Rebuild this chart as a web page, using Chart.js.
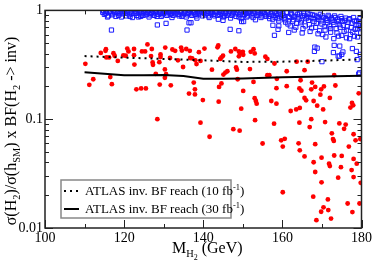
<!DOCTYPE html>
<html lang="en">
<head>
    <meta charset="UTF-8">
    <title>H2 invisible reach</title>
    <script src="https://cdn.jsdelivr.net/npm/chart.js"></script>
    <style>
        * {
            margin: 0;
            padding: 0;
            box-sizing: border-box;
        }

        body {
            background-color: #fff;
        }

        .chart-container {
            position: relative;
            width: 374px;
            height: 265px;
        }
    </style>
</head>
<body>
    <div class="chart-container">
        <canvas id="reachChart"></canvas>
    </div>

    <script>
        // tick labels
        const xTicks = [100, 120, 140, 160, 180];
        const yTicks = [0.01, 0.1, 1];
        const yTickLabels = ['0.01', '0.1', '1'];

        // ATLAS reach curves
        const reachX = [110, 120, 130, 140, 150, 160, 170, 180];
        const reach10 = [0.38, 0.368, 0.358, 0.348, 0.336, 0.338, 0.345, 0.355];
        const reach30X = [110, 115, 120, 125, 130, 135, 140, 145, 150, 160, 170, 180];
        const reach30 = [0.27, 0.262, 0.253, 0.253, 0.255, 0.25, 0.235, 0.235, 0.237, 0.243, 0.247, 0.251];

        // red points (filled circles)
        const redX = [110.2, 114.1, 115.3, 115.4, 115.5, 116.2, 117.3, 117.6, 118.4, 119.8, 116.5, 112.2, 111.2, 116.9,
            125.9, 120.8, 121.1, 122.5, 120.4, 122.5, 124.5, 125.3, 127.0, 126.8, 127.2, 127.3, 122.6, 128.9, 129.2, 129.2,
            130.4, 132.2, 132.9, 131.6, 134.4, 135.7, 134.6, 136.6, 133.6, 136.7, 137.2, 134.9, 138.0, 138.3, 139.3, 138.9,
            140.3, 128.0, 130.3, 130.6, 130.3, 129.0, 131.8, 123.1, 124.3, 125.5, 137.6, 136.4, 137.9, 137.9, 139.9, 128.4,
            143.8, 143.6, 147.0, 148.1, 149.0, 149.3, 150.0, 149.0, 150.1, 152.0, 152.7, 153.0, 144.6, 145.0, 144.3, 155.7,
            156.2, 158.0, 142.2, 146.1, 145.6, 145.1, 148.3, 148.5, 151.8, 156.2, 156.7, 148.7, 158.6, 152.7, 144.6, 144.0,
            158.5, 150.1, 143.9, 153.0, 153.3, 153.5, 157.2, 158.5, 149.6, 153.1,
            161.1, 163.6, 166.4, 165.6, 173.1, 161.1, 164.3, 164.8, 167.5, 168.3, 167.3, 170.5, 169.8, 173.4, 169.6, 172.0,
            165.6, 166.0, 167.9, 168.8, 170.3, 177.6, 177.9, 177.2, 164.4, 163.5, 162.1, 167.3, 179.3, 164.6,
            157.9, 141.6, 147.6, 149.2, 155.0, 159.7, 160.1, 160.1, 139.3,
            164.3, 170.8, 174.4, 176.0, 175.6, 166.9, 160.6, 164.1, 164.4, 165.6, 168.3, 172.5, 172.8, 173.0, 178.0, 178.5,
            179.7, 176.8, 173.1, 175.0, 167.9, 169.9, 171.8, 172.0, 174.8, 178.0, 178.8, 177.5, 178.0, 174.1, 168.3, 169.9,
            179.8, 167.8, 171.5, 170.4, 171.6, 169.8, 176.5, 179.5, 177.7, 172.3, 168.6];
        const redY = [0.323, 0.407, 0.425, 0.44, 0.37, 0.37, 0.404, 0.383, 0.343, 0.386, 0.244, 0.233, 0.207, 0.21,
            0.487, 0.446, 0.42, 0.442, 0.383, 0.388, 0.42, 0.42, 0.442, 0.38, 0.332, 0.316, 0.318, 0.334, 0.394, 0.373,
            0.455, 0.437, 0.425, 0.365, 0.455, 0.442, 0.428, 0.425, 0.348, 0.365, 0.363, 0.302, 0.348, 0.321, 0.343, 0.413,
            0.446, 0.261, 0.287, 0.259, 0.24, 0.208, 0.205, 0.188, 0.192, 0.192, 0.217, 0.172, 0.188, 0.169, 0.15, 0.1,
            0.477, 0.458, 0.42, 0.442, 0.42, 0.402, 0.416, 0.378, 0.391, 0.416, 0.44, 0.402, 0.37, 0.383, 0.358, 0.375,
            0.358, 0.325, 0.285, 0.276, 0.268, 0.257, 0.299, 0.285, 0.289, 0.254, 0.254, 0.233, 0.235, 0.22, 0.213, 0.198,
            0.193, 0.182, 0.145, 0.156, 0.147, 0.139, 0.147, 0.139, 0.125, 0.098,
            0.276, 0.338, 0.338, 0.282, 0.254, 0.201, 0.192, 0.183, 0.217, 0.198, 0.188, 0.2, 0.188, 0.204, 0.168, 0.157,
            0.157, 0.149, 0.147, 0.133, 0.123, 0.141, 0.134, 0.128, 0.127, 0.123, 0.119, 0.1, 0.173, 0.228,
            0.091, 0.069, 0.081, 0.0784, 0.0598, 0.064, 0.056, 0.0213, 0.0929,
            0.0929, 0.094, 0.0914, 0.0892, 0.0815, 0.0847, 0.066, 0.06, 0.0518, 0.0455, 0.0589, 0.0741, 0.0657, 0.0632, 0.0727, 0.064,
            0.0657, 0.056, 0.0464, 0.046, 0.0402, 0.0443, 0.039, 0.0371, 0.0362, 0.0431, 0.039, 0.0341, 0.0294, 0.029, 0.0327, 0.0263,
            0.026, 0.0194, 0.0183, 0.0155, 0.0146, 0.0141, 0.0168, 0.0168, 0.014, 0.0122, 0.0118];

        // blue points (open squares), dense band near 1 plus the spread at high mass
        const blueX = [114.6, 115.0, 115.5, 116.0, 116.6, 117.1, 117.6,
            118.2, 118.6, 119.0, 119.3, 119.7, 120.1, 120.5, 120.9, 121.3, 121.7, 122.1, 122.5, 122.9, 123.3, 123.8, 124.2,
            124.6, 125.0, 125.5, 125.9, 126.3, 126.8, 127.2, 127.6, 128.1, 128.5, 129.0, 129.4, 129.9, 130.3, 130.8, 131.2,
            131.7, 132.1, 132.6, 133.0, 133.5, 133.9, 134.4, 134.8, 135.3, 135.7, 136.2, 136.6, 137.1, 137.5, 138.0, 138.4,
            138.9, 139.3, 139.8,
            140.2, 140.6, 141.1, 141.5, 142.0, 142.4, 142.9, 143.3, 143.8, 144.2, 144.7, 145.1, 145.6, 146.0, 146.5, 146.9,
            147.4, 147.8, 148.3, 148.7, 149.2, 149.6, 150.1, 150.5, 151.0, 151.4, 151.9, 152.3, 152.8, 153.2, 153.7, 154.1,
            154.6, 155.0, 155.5, 155.9, 156.4, 156.8, 157.3, 157.7, 158.2, 158.6, 159.1, 159.5,
            160.0, 160.4, 160.8, 161.2, 161.6, 162.0, 162.4, 162.8, 163.2, 163.6, 164.0, 164.4, 164.8, 165.2, 165.6, 166.0,
            166.4, 166.8, 167.2, 167.6, 168.0, 168.4, 168.8, 169.2, 169.6, 170.0, 170.4, 170.8, 171.2, 171.6, 172.0, 172.4,
            172.8, 173.2, 173.6, 174.0, 174.4, 174.8, 175.2, 175.6, 176.0, 176.4, 176.8, 177.2, 177.6, 178.0, 178.4, 178.8,
            179.2, 179.6, 179.8, 165.0, 170.2, 172.2, 174.2, 176.2, 178.2, 163.0, 167.0, 169.0, 171.0, 173.0, 175.0, 177.0,
            179.0,
            116.8, 128.4, 130.6, 135.9, 136.4, 136.9, 146.8, 149.0, 149.7, 150.2, 145.0, 158.0, 158.9, 157.6, 159.1, 161.6,
            168.8, 168.1, 172.9, 174.1, 175.3, 174.4, 177.7, 178.7, 178.9, 173.1, 174.5, 179.5, 179.3, 170.0, 175.0, 168.2,
            179.7,
            114.8, 115.3, 115.8, 116.3, 116.9, 117.4, 117.9, 118.4, 118.9, 119.5, 120.3, 120.7, 121.5, 121.9, 122.7, 123.1,
            123.6, 124.0, 124.4, 124.8, 125.3, 125.7, 126.1, 126.6, 127.0, 127.4, 127.9, 128.3, 128.8, 129.2, 129.7, 130.1,
            130.6, 131.0, 131.5, 131.9, 132.4, 132.8, 133.3, 133.7, 134.2, 134.6, 135.1, 135.5, 136.0, 136.4, 136.9, 137.3,
            137.8, 138.2, 138.7, 139.1, 139.6,
            140.4, 140.9, 141.3, 141.8, 142.2, 142.7, 143.1, 143.6, 144.0, 144.5, 144.9, 145.4, 145.8, 146.3, 146.7, 147.2,
            147.6, 148.1, 148.5, 149.0, 149.4, 149.9, 150.3, 150.8, 151.2, 151.7, 152.1, 152.6, 153.0, 153.5, 153.9, 154.4,
            154.8, 155.3, 155.7, 156.2, 156.6, 157.1, 157.5, 158.0, 158.4, 158.9, 159.3, 159.8,
            160.2, 160.6, 161.0, 161.4, 161.8, 162.2, 162.6, 163.0, 163.4, 163.8, 164.2, 164.6, 165.0, 165.4, 165.8, 166.2,
            166.6, 167.0, 167.4, 167.8, 168.2, 168.6, 169.0, 169.4, 169.8, 170.2, 170.6, 171.0, 171.4, 171.8, 172.2, 172.6,
            173.0, 173.4, 173.8, 174.2, 174.6, 175.0, 175.4, 175.8, 176.2, 176.6, 177.0, 177.4, 177.8, 178.2, 178.6, 179.0,
            179.4, 179.8];
        const blueY = [0.96, 0.92, 0.98, 0.89, 0.95, 0.91, 0.97,
            0.95, 0.90, 0.97, 0.87, 0.93, 0.98, 0.89, 0.95, 0.91, 0.97, 0.86, 0.94, 0.99, 0.90, 0.96, 0.88,
            0.93, 0.98, 0.91, 0.96, 0.87, 0.94, 0.99, 0.90, 0.95, 0.92, 0.97, 0.88, 0.94, 0.98, 0.90, 0.96,
            0.92, 0.86, 0.97, 0.93, 0.99, 0.89, 0.95, 0.91, 0.97, 0.87, 0.94, 0.99, 0.90, 0.96, 0.92, 0.85,
            0.97, 0.93, 0.89,
            0.96, 0.91, 0.98, 0.86, 0.93, 0.97, 0.89, 0.95, 0.83, 0.92, 0.98, 0.87, 0.94, 0.90, 0.97, 0.85,
            0.93, 0.99, 0.88, 0.95, 0.91, 0.84, 0.97, 0.92, 0.87, 0.95, 0.99, 0.89, 0.93, 0.82, 0.96, 0.91,
            0.86, 0.98, 0.93, 0.88, 0.95, 0.84, 0.97, 0.90, 0.86, 0.94, 0.80, 0.92,
            0.93, 0.85, 0.78, 0.96, 0.88, 0.72, 0.91, 0.82, 0.95, 0.76, 0.87, 0.93, 0.80, 0.68, 0.90, 0.84,
            0.94, 0.74, 0.86, 0.91, 0.79, 0.70, 0.88, 0.83, 0.92, 0.75, 0.86, 0.66, 0.81, 0.90, 0.72, 0.85,
            0.78, 0.89, 0.68, 0.83, 0.74, 0.88, 0.79, 0.64, 0.85, 0.71, 0.82, 0.60, 0.76, 0.86, 0.67, 0.80,
            0.73, 0.84, 0.62, 0.62, 0.60, 0.63, 0.58, 0.56, 0.58, 0.66, 0.64, 0.61, 0.57, 0.55, 0.59, 0.55,
            0.57,
            0.66, 0.735, 0.76, 0.66, 0.77, 0.77, 0.67, 0.65, 0.79, 0.79, 0.81, 0.59, 0.67, 0.73, 0.72, 0.627,
            0.45, 0.42, 0.41, 0.38, 0.415, 0.38, 0.446, 0.42, 0.353, 0.477, 0.47, 0.267, 0.26, 0.338, 0.394, 0.46,
            0.394,
            0.99, 0.94, 0.87, 0.97, 0.93, 0.99, 0.88, 0.98, 0.93, 0.99, 0.94, 0.99, 0.88, 0.93, 0.97, 0.94,
            0.87, 0.99, 0.95, 0.90, 0.97, 0.93, 0.99, 0.91, 0.96, 0.93, 0.98, 0.88, 0.99, 0.94, 0.91, 0.96,
            0.99, 0.93, 0.98, 0.95, 0.90, 0.99, 0.95, 0.92, 0.98, 0.88, 0.94, 0.99, 0.91, 0.96, 0.93, 0.99,
            0.95, 0.89, 0.93, 0.99, 0.96,
            0.99, 0.94, 0.89, 0.96, 0.99, 0.92, 0.98, 0.90, 0.96, 0.99, 0.93, 0.89, 0.97, 0.93, 0.99, 0.90,
            0.96, 0.93, 0.99, 0.87, 0.95, 0.91, 0.99, 0.94, 0.89, 0.97, 0.93, 0.86, 0.99, 0.90, 0.95, 0.99,
            0.89, 0.96, 0.91, 0.99, 0.88, 0.93, 0.83, 0.96, 0.90, 0.84, 0.97, 0.87,
            0.90, 0.82, 0.95, 0.75, 0.86, 0.93, 0.79, 0.88, 0.70, 0.92, 0.83, 0.77, 0.89, 0.94, 0.72, 0.87,
            0.81, 0.92, 0.69, 0.84, 0.90, 0.76, 0.86, 0.65, 0.80, 0.89, 0.71, 0.84, 0.77, 0.87, 0.68, 0.82,
            0.74, 0.86, 0.62, 0.79, 0.70, 0.84, 0.73, 0.81, 0.66, 0.78, 0.84, 0.70, 0.63, 0.80, 0.74, 0.68,
            0.79, 0.70];

        const toPoints = (xs, ys) => xs.map((v, i) => ({ x: v, y: ys[i] }));

        const serif = "'Liberation Serif', 'DejaVu Serif', serif";

        // draws a run of [text, level] pieces, level 1 = subscript, 2 = sub-sub, -1 = superscript
        function drawRuns(ctx, runs, x, y, size, align) {
            const fontFor = lv => (lv === 0 ? size : lv === 2 ? size * 0.5 : size * 0.65) + 'px ' + serif;
            const shiftFor = lv => (lv === 0 ? 0 : lv === 1 ? size * 0.28 : lv === 2 ? size * 0.42 : -size * 0.38);
            let total = 0;
            runs.forEach(r => { ctx.font = fontFor(r[1]); total += ctx.measureText(r[0]).width; });
            let cx = align === 'center' ? x - total / 2 : x;
            ctx.textAlign = 'left';
            ctx.textBaseline = 'alphabetic';
            runs.forEach(r => {
                ctx.font = fontFor(r[1]);
                ctx.fillText(r[0], cx, y + shiftFor(r[1]));
                cx += ctx.measureText(r[0]).width;
            });
        }

        const framePlugin = {
            id: 'frame',
            afterDraw(chart) {
                const { ctx, chartArea: a, scales: { x, y } } = chart;
                ctx.save();
                ctx.strokeStyle = '#222';
                ctx.lineWidth = 1;
                ctx.beginPath();
                for (let v = 100; v <= 180; v += 10) {
                    const px = Math.round(x.getPixelForValue(v)) + 0.5;
                    const len = v % 20 === 0 ? 8 : 4;
                    ctx.moveTo(px, a.bottom); ctx.lineTo(px, a.bottom - len);
                    ctx.moveTo(px, a.top); ctx.lineTo(px, a.top + len);
                }
                [0.01, 0.1].forEach(d => {
                    for (let m = 1; m <= 9; m++) {
                        const py = Math.round(y.getPixelForValue(m * d)) + 0.5;
                        const len = m === 1 ? 8 : 4;
                        ctx.moveTo(a.left, py); ctx.lineTo(a.left + len, py);
                        ctx.moveTo(a.right, py); ctx.lineTo(a.right - len, py);
                    }
                });
                ctx.stroke();
                ctx.lineWidth = 1.5;
                ctx.strokeRect(a.left, a.top, a.right - a.left, a.bottom - a.top);

                // axis titles
                ctx.fillStyle = '#000';
                drawRuns(ctx, [['M', 0], ['H', 1], ['2', 2], [' (GeV)', 0]], 172, 253, 16, 'left');
                ctx.save();
                ctx.translate(16, 131);
                ctx.rotate(-Math.PI / 2);
                drawRuns(ctx, [['σ(H', 0], ['2', 1], [')/σ(h', 0], ['SM', 1], [') x BF(H', 0], ['2', 1], [' -> inv)', 0]], 0, 0, 16, 'center');
                ctx.restore();

                // legend box
                ctx.fillStyle = '#fff';
                ctx.fillRect(61, 180, 170, 38);
                ctx.strokeStyle = '#888';
                ctx.lineWidth = 1.5;
                ctx.strokeRect(61, 180, 170, 38);
                ctx.strokeStyle = '#000';
                ctx.lineWidth = 2;
                ctx.setLineDash([2, 4]);
                ctx.beginPath(); ctx.moveTo(64, 191); ctx.lineTo(80, 191); ctx.stroke();
                ctx.setLineDash([]);
                ctx.beginPath(); ctx.moveTo(64, 209); ctx.lineTo(79, 209); ctx.stroke();
                ctx.fillStyle = '#000';
                drawRuns(ctx, [['ATLAS inv. BF reach (10 fb', 0], ['-1', -1], [')', 0]], 85, 195, 13, 'left');
                drawRuns(ctx, [['ATLAS inv. BF reach (30 fb', 0], ['-1', -1], [')', 0]], 85, 213, 13, 'left');
                ctx.restore();
            }
        };

        const ctx = document.getElementById('reachChart').getContext('2d');
        new Chart(ctx, {
            type: 'scatter',
            data: {
                datasets: [{
                    label: 'ATLAS inv. BF reach (10 fb-1)',
                    data: toPoints(reachX, reach10),
                    showLine: true,
                    borderColor: '#000',
                    borderWidth: 2,
                    borderDash: [2, 4],
                    pointRadius: 0
                }, {
                    label: 'ATLAS inv. BF reach (30 fb-1)',
                    data: toPoints(reach30X, reach30),
                    showLine: true,
                    borderColor: '#000',
                    borderWidth: 2,
                    pointRadius: 0
                }, {
                    label: 'red',
                    data: toPoints(redX, redY),
                    pointRadius: 2.4,
                    pointBackgroundColor: '#ff0000',
                    pointBorderWidth: 0
                }, {
                    label: 'blue',
                    data: toPoints(blueX, blueY),
                    pointStyle: 'rect',
                    pointRadius: 3,
                    pointBackgroundColor: 'rgba(0,0,0,0)',
                    pointBorderColor: '#1a1aff',
                    pointBorderWidth: 1
                }]
            },
            options: {
                responsive: true,
                maintainAspectRatio: false,
                animation: false,
                layout: {
                    padding: { top: 4, right: 11, left: 0, bottom: 0 }
                },
                scales: {
                    x: {
                        type: 'linear',
                        min: 100,
                        max: 180,
                        afterBuildTicks(s) { s.ticks = xTicks.map(v => ({ value: v })); },
                        afterFit(s) { s.height = 37; },
                        ticks: {
                            color: '#000',
                            font: { family: serif, size: 14 },
                            padding: 2,
                            maxRotation: 0
                        },
                        grid: { display: false, drawTicks: false },
                        border: { display: false }
                    },
                    y: {
                        type: 'logarithmic',
                        min: 0.01,
                        max: 1,
                        afterBuildTicks(s) { s.ticks = yTicks.map(v => ({ value: v })); },
                        afterFit(s) { s.width = 45; },
                        ticks: {
                            color: '#000',
                            font: { family: serif, size: 14 },
                            padding: 2,
                            callback: v => yTickLabels[yTicks.indexOf(v)]
                        },
                        grid: { display: false, drawTicks: false },
                        border: { display: false }
                    }
                },
                plugins: {
                    legend: { display: false },
                    tooltip: { enabled: false }
                }
            },
            plugins: [framePlugin]
        });
    </script>
</body>
</html>
